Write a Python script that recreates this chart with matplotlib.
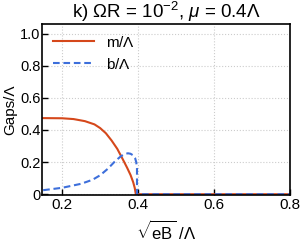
import numpy as np
from matplotlib import pyplot as plt

plt.rcParams['font.family'] = ['Liberation Sans', 'DejaVu Sans']
plt.rcParams['mathtext.fontset'] = 'custom'
plt.rcParams['mathtext.rm'] = 'Liberation Sans'
plt.rcParams['mathtext.it'] = 'Liberation Sans:italic'

# values
m_x = [0.15, 0.2, 0.23, 0.26, 0.285, 0.3, 0.315, 0.33, 0.345, 0.358, 0.371,
       0.38, 0.387, 0.391, 0.394, 0.8]
m_y = [0.474, 0.473, 0.468, 0.455, 0.435, 0.412, 0.38, 0.335, 0.283, 0.225, 0.165,
       0.12, 0.075, 0.04, 0.0, 0.0]
b_x = [0.15, 0.2, 0.25, 0.28, 0.3, 0.32, 0.34, 0.355, 0.365, 0.373, 0.38,
       0.387, 0.392, 0.395, 0.397, 0.397, 0.8]
b_y = [0.025, 0.04, 0.065, 0.09, 0.118, 0.158, 0.207, 0.237, 0.25, 0.255, 0.252,
       0.242, 0.225, 0.2, 0.16, 0.0, 0.0]

red = '#D5481B'
blue = '#3D6FDB'

fig = plt.figure(figsize=(3.0, 2.45), dpi=100)
ax = fig.add_axes([0.14, 0.204, 0.827, 0.698])

ax.plot(m_x, m_y, color=red, lw=1.5, label=r'm/$\Lambda$')
ax.plot(b_x, b_y, color=blue, lw=1.5, ls=(0, (3.2, 1.8)), label=r'b/$\Lambda$')

ax.set_xlim(0.147, 0.8)
ax.set_ylim(-0.005, 1.06)
ax.set_xticks([0.2, 0.4, 0.6, 0.8])
ax.set_xticklabels(['0.2', '0.4', '0.6', '0.8'])
ax.set_yticks([0, 0.2, 0.4, 0.6, 0.8, 1.0])
ax.set_yticklabels(['0', '0.2', '0.4', '0.6', '0.8', '1.0'])
ax.tick_params(direction='in', length=4, width=1, labelsize=11, pad=2)
ax.tick_params(axis='y', labelsize=10.5, pad=1)
ax.grid(color='#cccccc', ls=':', lw=0.8)
for s in ax.spines.values():
    s.set_linewidth(1.2)

ax.set_title(r'k) $\Omega$R = 10$^{-2}$, $\mu$ = 0.4$\Lambda$', fontsize=13.5, pad=3)
ax.set_ylabel('Gaps/Λ', fontsize=11)
ax.yaxis.set_label_coords(-0.1, 0.5)
ax.set_xlabel(r'$\sqrt{\mathrm{eB}}$ /$\Lambda$', fontsize=12, labelpad=6)
ax.legend(loc='upper left', frameon=False, fontsize=11, handlelength=2.7,
          borderaxespad=0.3, labelspacing=0.45)

fig.savefig('out.png', dpi=100)
